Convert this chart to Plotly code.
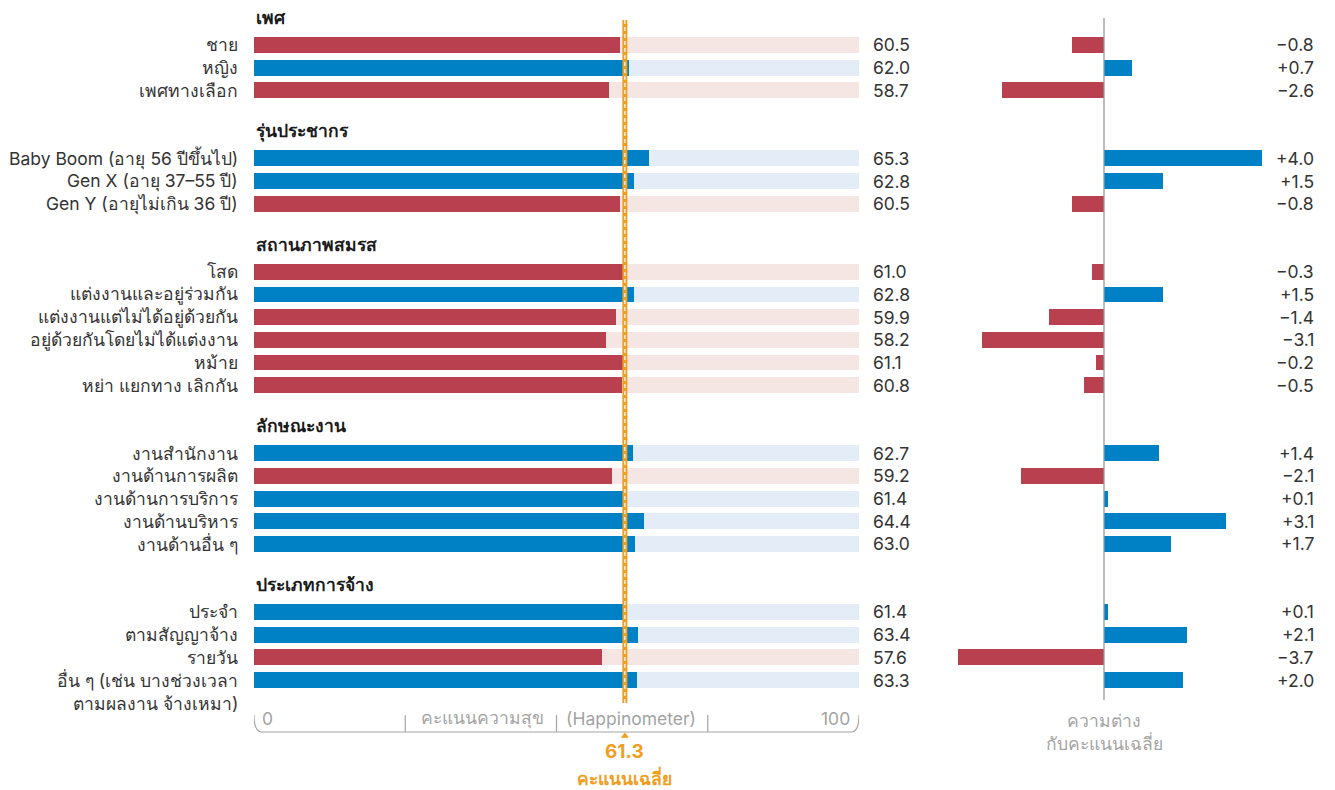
import plotly.graph_objects as go

# ---- data ----
group_names = ["เพศ", "รุ่นประชากร", "สถานภาพสมรส", "ลักษณะงาน", "ประเภทการจ้าง"]
group_labels = [
    ["ชาย", "หญิง", "เพศทางเลือก"],
    ["Baby Boom (อายุ 56 ปีขึ้นไป)", "Gen X (อายุ 37–55 ปี)", "Gen Y (อายุไม่เกิน 36 ปี)"],
    ["โสด", "แต่งงานและอยู่ร่วมกัน", "แต่งงานแต่ไม่ได้อยู่ด้วยกัน",
     "อยู่ด้วยกันโดยไม่ได้แต่งงาน", "หม้าย", "หย่า แยกทาง เลิกกัน"],
    ["งานสำนักงาน", "งานด้านการผลิต", "งานด้านการบริการ", "งานด้านบริหาร", "งานด้านอื่น ๆ"],
    ["ประจำ", "ตามสัญญาจ้าง", "รายวัน", "อื่น ๆ (เช่น บางช่วงเวลา<br>ตามผลงาน จ้างเหมา)"],
]
group_scores = [
    [60.5, 62.0, 58.7],
    [65.3, 62.8, 60.5],
    [61.0, 62.8, 59.9, 58.2, 61.1, 60.8],
    [62.7, 59.2, 61.4, 64.4, 63.0],
    [61.4, 63.4, 57.6, 63.3],
]
group_diffs = [
    [-0.8, 0.7, -2.6],
    [4.0, 1.5, -0.8],
    [-0.3, 1.5, -1.4, -3.1, -0.2, -0.5],
    [1.4, -2.1, 0.1, 3.1, 1.7],
    [0.1, 2.1, -3.7, 2.0],
]
AVG = 61.3
scale_ticks = [25, 50, 75]

RED = "#b8404f"
BLUE = "#0080c5"
RED_LIGHT = "#f5e6e4"
BLUE_LIGHT = "#e4ecf7"
ORANGE = "#f19d1e"
GRAY = "#a3a3a3"
TEXT = "#333333"
FONT = "Inter, Liberation Sans, sans-serif"
FS = 17.5

# slot layout: header row, item rows, blank row between groups
header_slots, labels, scores, diffs, slots = [], [], [], [], []
s = 0
for name, labs, scs, dfs in zip(group_names, group_labels, group_scores, group_diffs):
    header_slots.append(s)
    s += 1
    for lab, sc, d in zip(labs, scs, dfs):
        labels.append(lab)
        scores.append(sc)
        diffs.append(d)
        slots.append(s)
        s += 1
    s += 1

fg_colors = [BLUE if d > 0 else RED for d in diffs]
bg_colors = [BLUE_LIGHT if d > 0 else RED_LIGHT for d in diffs]

# page body has an 8px margin, so the figure is laid out 8px smaller/offset
OFF = 8
W, H = 1335 - OFF, 790 - OFF
SLOT_PX = 22.68
y_top = -(22.3 - OFF) / SLOT_PX
y_bot = y_top + H / SLOT_PX


def px_x(p):
    return (p - OFF) / W


def px_slot(p):
    return (p - 22.3) / SLOT_PX


fig = go.Figure()

# background (full scale) bars
fig.add_trace(go.Bar(
    y=slots, x=[100] * len(slots), orientation="h", width=0.7,
    marker=dict(color=bg_colors, line_width=0), hoverinfo="skip", showlegend=False,
))
# score bars
fig.add_trace(go.Bar(
    y=slots, x=scores, orientation="h", width=0.7,
    marker=dict(color=fg_colors, line_width=0), showlegend=False,
))
# difference bars
fig.add_trace(go.Bar(
    y=slots, x=diffs, orientation="h", width=0.7, xaxis="x2",
    marker=dict(color=fg_colors, line_width=0), showlegend=False,
))
# average marker triangle
fig.add_trace(go.Scatter(
    x=[AVG], y=[px_slot(736)], mode="markers",
    marker=dict(symbol="triangle-up", size=7, color=ORANGE),
    hoverinfo="skip", showlegend=False,
))

annotations = []
# headers
for name, hs in zip(group_names, header_slots):
    annotations.append(dict(
        x=0, y=hs, xref="x", yref="y", text=f"<b>{name}</b>", showarrow=False,
        xanchor="left", yanchor="middle", yshift=5,
        font=dict(size=FS, color="#1a1a1a", family=FONT),
    ))
# row labels, score values, diff values
for lab, sl, sc, d in zip(labels, slots, scores, diffs):
    for i, line in enumerate(lab.split("<br>")):
        annotations.append(dict(
            x=0, y=sl + i * 1.02, xref="x", yref="y", text=line, showarrow=False,
            xanchor="right", yanchor="middle", xshift=-14,
            font=dict(size=FS, color=TEXT, family=FONT),
        ))
    annotations.append(dict(
        x=100, y=sl, xref="x", yref="y", text=f"{sc:.1f}", showarrow=False,
        xanchor="left", yanchor="middle", xshift=12,
        font=dict(size=FS, color=TEXT, family=FONT),
    ))
    sign = "+" if d > 0 else "\u2212"
    annotations.append(dict(
        x=px_x(1316), y=sl, xref="paper", yref="y", text=f"{sign}{abs(d):.1f}",
        showarrow=False, xanchor="right", yanchor="middle",
        font=dict(size=FS, color=TEXT, family=FONT),
    ))

# scale labels
axis_y = px_slot(718)
for x, txt, anc in [(1.0, "0", "left"), (98.9, "100", "right"),
                    (48.3, "คะแนนความสุข", "right"), (51.2, "(Happinometer)", "left")]:
    annotations.append(dict(
        x=x, y=axis_y, xref="x", yref="y", text=txt, showarrow=False,
        xanchor=anc, yanchor="middle", font=dict(size=FS, color=GRAY, family=FONT),
    ))
annotations.append(dict(
    x=AVG, y=px_slot(751), xref="x", yref="y", text=f"<b>{AVG:.1f}</b>", showarrow=False,
    xanchor="center", yanchor="middle", font=dict(size=19, color=ORANGE, family=FONT),
))
annotations.append(dict(
    x=AVG, y=px_slot(777), xref="x", yref="y", text="<b>คะแนนเฉลี่ย</b>", showarrow=False,
    xanchor="center", yanchor="middle", font=dict(size=FS, color=ORANGE, family=FONT),
))
for txt, p in [("ความต่าง", 720), ("กับคะแนนเฉลี่ย", 743)]:
    annotations.append(dict(
        x=0, y=px_slot(p), xref="x2", yref="y", text=txt, showarrow=False,
        xanchor="center", yanchor="middle", font=dict(size=FS, color=GRAY, family=FONT),
    ))

shapes = []
# bracket under the score scale
by, ty = px_slot(732), px_slot(715)
shapes.append(dict(
    type="path", xref="x", yref="y",
    path=f"M 0,{ty} Q 0,{by} 1.3,{by} L 98.7,{by} Q 100,{by} 100,{ty}",
    line=dict(color=GRAY, width=1.2),
))
for t in scale_ticks:
    shapes.append(dict(type="line", xref="x", yref="y", x0=t, x1=t, y0=ty, y1=by,
                       line=dict(color=GRAY, width=1.2)))
# zero line of difference panel
shapes.append(dict(type="line", xref="x2", yref="y", x0=0, x1=0, y0=px_slot(18), y1=px_slot(700),
                   line=dict(color="#999999", width=1.3)))
# average line (orange with white dashed core)
shapes.append(dict(type="line", xref="x", yref="y", x0=AVG, x1=AVG, y0=px_slot(20), y1=px_slot(703),
                   line=dict(color=ORANGE, width=5)))
shapes.append(dict(type="line", xref="x", yref="y", x0=AVG, x1=AVG, y0=px_slot(20), y1=px_slot(703),
                   line=dict(color="white", width=1.2, dash="4px,3px")))

x2_left, x2_right = 950, 1290
zero_px, unit_px = 1104, 39.4

fig.update_layout(
    width=W, height=H,
    margin=dict(l=0, r=0, t=0, b=0),
    paper_bgcolor="white", plot_bgcolor="white",
    barmode="overlay", bargap=0,
    xaxis=dict(domain=[px_x(254), px_x(859)], range=[0, 100], visible=False, fixedrange=True),
    xaxis2=dict(domain=[px_x(x2_left), px_x(x2_right)],
                range=[-(zero_px - x2_left) / unit_px, (x2_right - zero_px) / unit_px],
                visible=False, anchor="y", fixedrange=True),
    yaxis=dict(range=[y_bot, y_top], visible=False, fixedrange=True),
    annotations=annotations,
    shapes=shapes,
    font=dict(family=FONT),
)

fig.write_html("out.html")
